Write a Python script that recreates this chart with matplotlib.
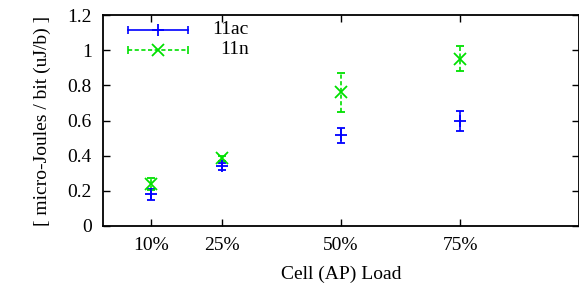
import matplotlib
matplotlib.use("Agg")
import matplotlib.pyplot as plt

plt.rcParams['font.family'] = ['Liberation Serif', 'DejaVu Serif']
plt.rcParams['font.size'] = 14

# data
loads = [10, 25, 50, 75]
load_labels = ['10%', '25%', '50%', '75%']

ac_mean = [0.18, 0.34, 0.515, 0.597]
ac_err = [0.03, 0.02, 0.045, 0.057]

n_mean = [0.24, 0.385, 0.76, 0.95]
n_err = [0.035, 0.015, 0.112, 0.071]

BLUE = '#0000ff'
GREEN = '#00e000'
DASH = (0, (2.5, 1.5))

fig = plt.figure(figsize=(5.79, 2.92), dpi=100)
ax = fig.add_axes([103 / 579, 1 - 226 / 292, 476 / 579, 211 / 292])

ax.errorbar(loads, ac_mean, yerr=ac_err, fmt='+', color=BLUE, ms=9, mew=1.3,
            elinewidth=1.2, capsize=2.6, capthick=1.2)
eb = ax.errorbar(loads, n_mean, yerr=n_err, fmt='x', color=GREEN, ms=8, mew=1.3,
                 elinewidth=1.2, capsize=2.6, capthick=1.2)
eb[2][0].set_linestyle(DASH)

# gnuplot-style key
for i, (lbl, col, mk, ls) in enumerate([('11ac', BLUE, '+', '-'),
                                         ('11n', GREEN, 'x', DASH)]):
    yk = 1 - (30 + i * 19.5 - 15) / 211
    x0, x1 = (128 - 103) / 476, (188 - 103) / 476
    ax.plot([x0, x1], [yk, yk], color=col, lw=1.2, ls=ls, transform=ax.transAxes, clip_on=False)
    ax.plot([x0, x1], [yk, yk], ls='none', marker='|', ms=6, mew=1.2, color=col,
            transform=ax.transAxes, clip_on=False)
    ax.plot([(x0 + x1) / 2], [yk], ls='none', marker=mk, ms=9 if mk == '+' else 8,
            mew=1.3, color=col, transform=ax.transAxes, clip_on=False)
    ax.text((249 - 103) / 476, yk, lbl, ha='right', va='center', transform=ax.transAxes)

ax.set_xlim(0, 100)
ax.set_ylim(0, 1.2)
ax.set_xticks(loads)
ax.set_xticklabels(load_labels)
ax.set_yticks([0, 0.2, 0.4, 0.6, 0.8, 1.0, 1.2])
ax.set_yticklabels(['0', '0.2', '0.4', '0.6', '0.8', '1', '1.2'])
ax.tick_params(direction='in', length=5, width=1, top=True, right=True, pad=8)
for s in ax.spines.values():
    s.set_linewidth(1.3)

ax.set_xlabel('Cell (AP) Load', labelpad=8)
ax.set_ylabel('[ micro-Joules / bit (uJ/b) ]', labelpad=12)

fig.savefig('out.png', dpi=100)
